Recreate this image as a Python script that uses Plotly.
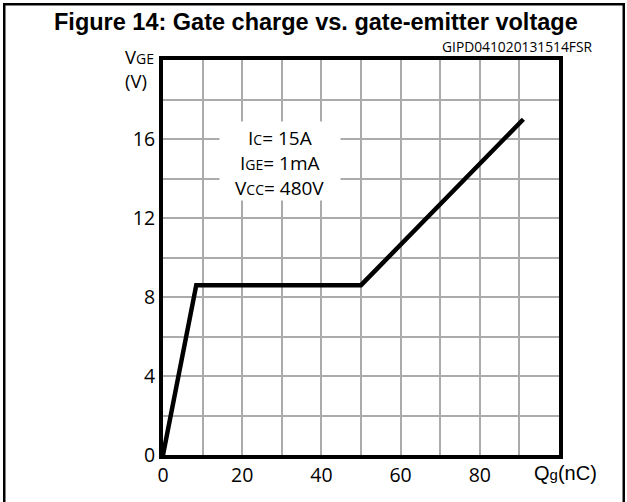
import plotly.graph_objects as go

# Data
qg_nc = [0, 8.4, 50, 91]
vge_v = [0, 8.6, 8.6, 17]

x_tickvals = [0, 10, 20, 30, 40, 50, 60, 70, 80, 90, 100]
x_ticktext = ["0", "", "20", "", "40", "", "60", "", "80", "", ""]
y_tickvals = [0, 2, 4, 6, 8, 10, 12, 14, 16, 18, 20]
y_ticktext = ["0", "", "4", "", "8", "", "12", "", "16", "", ""]

cond_lines = [
    "I<span style='font-size:14px'>C</span>= 15A",
    "I<span style='font-size:14px'>GE</span>= 1mA",
    "V<span style='font-size:14px'>CC</span>= 480V",
]
cond_y = [16.05, 14.78, 13.52]

W, H = 627, 502
L, R, T, B = 163, 68, 60, 47
pw, ph = W - L - R, H - T - B


def px(x):
    return (x - L) / pw


def py(y):
    return (H - B - y) / ph


FONT = "Open Sans"

fig = go.Figure()
fig.add_trace(go.Scatter(x=qg_nc, y=vge_v, mode="lines",
                         line=dict(color="black", width=4.5),
                         showlegend=False, hoverinfo="skip"))

axis_common = dict(showgrid=True, gridcolor="#ababab", gridwidth=1.5,
                   zeroline=False, showline=True, linecolor="black", linewidth=4,
                   mirror=True, ticks="", ticklen=0,
                   tickfont=dict(family=FONT, size=19.5, color="black"))

fig.update_layout(
    width=W, height=H,
    margin=dict(l=L, r=R, t=T, b=B, pad=0),
    paper_bgcolor="black", plot_bgcolor="white",
    font=dict(family=FONT, color="black", size=17),
    xaxis=dict(range=[0, 100], tickvals=x_tickvals, ticktext=x_ticktext, **axis_common),
    yaxis=dict(range=[0, 20], tickvals=y_tickvals, ticktext=y_ticktext, **axis_common),
)

# page background with an outer frame: black paper showing through a thin band
white = dict(fillcolor="white", line=dict(width=0), layer="below")
# inside the frame
fig.add_shape(type="rect", xref="paper", yref="paper",
              x0=px(5.5), x1=px(622.5), y0=py(520), y1=py(5.5), **white)
# outside the frame
fig.add_shape(type="rect", xref="paper", yref="paper",
              x0=px(-5), x1=px(3), y0=py(520), y1=py(-5), **white)
fig.add_shape(type="rect", xref="paper", yref="paper",
              x0=px(-5), x1=px(640), y0=py(3), y1=py(-5), **white)
fig.add_shape(type="rect", xref="paper", yref="paper",
              x0=px(625), x1=px(640), y0=py(520), y1=py(-5), **white)

annotations = []
# white box behind the test conditions
annotations.append(dict(x=29.5, y=14.88, xref="x", yref="y", text=" ",
                        showarrow=False, bgcolor="white", width=120, height=78,
                        borderpad=0))
for t, yy in zip(cond_lines, cond_y):
    annotations.append(dict(x=29.5, y=yy, xref="x", yref="y", text=t,
                            showarrow=False, font=dict(family=FONT, size=19),
                            xanchor="center", yanchor="middle"))

# title
annotations.append(dict(x=px(316), y=py(22), xref="paper", yref="paper",
                        text="<b>Figure 14: Gate charge vs. gate-emitter voltage</b>",
                        showarrow=False, xanchor="center", yanchor="middle",
                        font=dict(family="Liberation Sans, Arial", size=23.5)))
# code
annotations.append(dict(x=px(595), y=py(46), xref="paper", yref="paper",
                        text="GIPD041020131514FSR", showarrow=False,
                        xanchor="right", yanchor="middle",
                        font=dict(family=FONT, size=13.8)))
# y axis title
annotations.append(dict(x=px(123), y=py(57), xref="paper", yref="paper",
                        text="V<span style='font-size:14px'>GE</span>",
                        showarrow=False, xanchor="left", yanchor="middle",
                        font=dict(family=FONT, size=18.5)))
annotations.append(dict(x=px(123), y=py(80), xref="paper", yref="paper",
                        text="(V)", showarrow=False, xanchor="left", yanchor="middle",
                        font=dict(family=FONT, size=18.5)))
# x axis title
annotations.append(dict(x=px(532), y=py(473), xref="paper", yref="paper",
                        text="Q<span style='font-size:15px'>g</span>(nC)",
                        showarrow=False, xanchor="left", yanchor="middle",
                        font=dict(family="Liberation Sans, Arial", size=20)))

fig.update_layout(annotations=annotations)

fig.write_html("out.html", config={"displayModeBar": False},
               post_script="document.body.style.margin='0';document.body.style.overflow='hidden';")
